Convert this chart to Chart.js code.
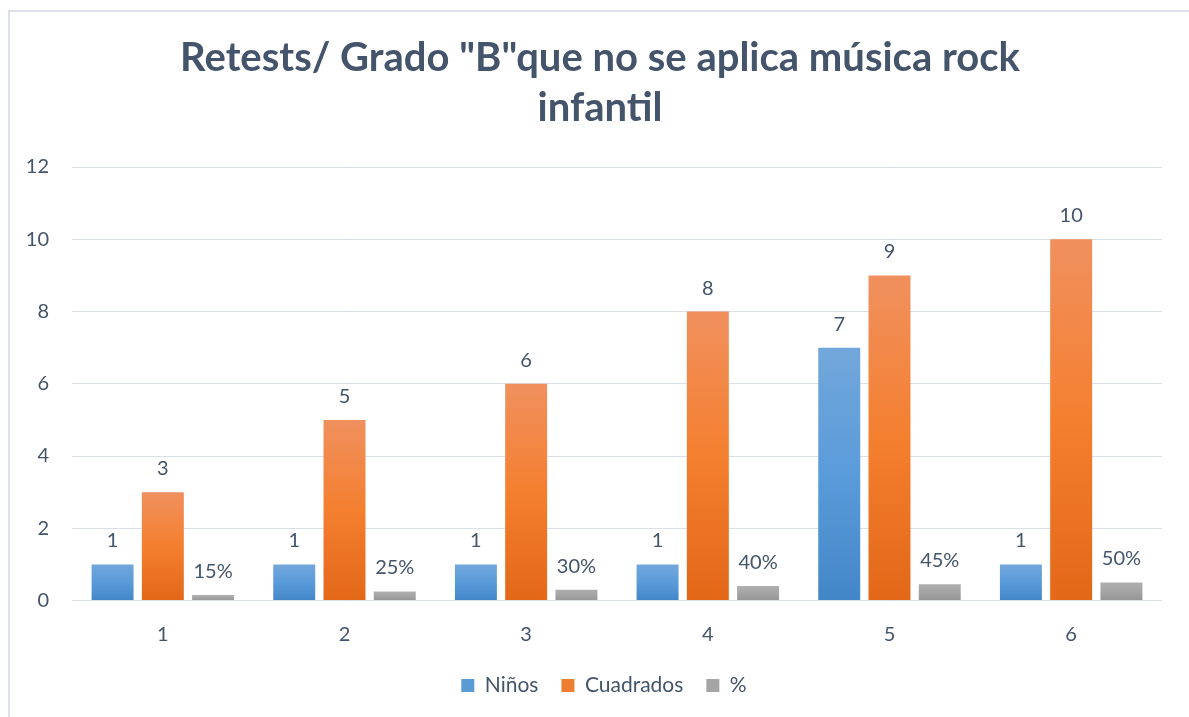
<!DOCTYPE html>
<html><head><meta charset="utf-8">
<script src="https://cdn.jsdelivr.net/npm/chart.js@4.4.1/dist/chart.umd.min.js"></script>
<style>
html,body{margin:0;padding:0;background:#fff;overflow:hidden}
#wrap{position:relative;width:1189px;height:717px;background:#fff}
#frame{position:absolute;left:8px;top:10px;width:1200px;height:720px;border-left:2px solid #DDE2EA;border-top:2px solid #DDE2EA;box-sizing:border-box;pointer-events:none}
canvas{position:absolute;left:0;top:0}
</style></head><body>
<div id="wrap"><div id="frame"></div><canvas id="c" width="1189" height="717"></canvas></div>
<script>
const titleLines = ['Retests/ Grado "B"que no se aplica música rock', 'infantil'];
const categories = ['1', '2', '3', '4', '5', '6'];
const seriesNames = ['Niños', 'Cuadrados', '%'];
const ninos = [1, 1, 1, 1, 7, 1];
const cuadrados = [3, 5, 6, 8, 9, 10];
const porcentaje = [0.15, 0.25, 0.30, 0.40, 0.45, 0.50];
const yTickValues = [0, 2, 4, 6, 8, 10, 12];

const TEXT = '#44546A';
const FONT = 'Lato';

function grad(stops, fallback) {
  return (ctx) => {
    const chart = ctx.chart;
    if (ctx.type !== 'data') return fallback;
    const ys = chart.scales && chart.scales.y;
    if (!ys || !chart.chartArea) return fallback;
    const y0 = ys.getPixelForValue(0), y1 = ys.getPixelForValue(ctx.raw);
    if (!isFinite(y0) || !isFinite(y1) || Math.abs(y0 - y1) < 0.5) return fallback;
    const g = chart.ctx.createLinearGradient(0, y1, 0, y0);
    stops.forEach((c, i) => g.addColorStop(i / (stops.length - 1), c));
    return g;
  };
}
const solid = ['#5B9BD5', '#ED7D31', '#A5A5A5'];

const valueLabels = {
  id: 'valueLabels',
  afterDatasetsDraw(chart) {
    const ctx = chart.ctx;
    ctx.save();
    ctx.font = '20px ' + FONT;
    ctx.fillStyle = TEXT;
    ctx.textAlign = 'center';
    ctx.textBaseline = 'alphabetic';
    chart.data.datasets.forEach((ds, i) => {
      const meta = chart.getDatasetMeta(i);
      meta.data.forEach((bar, j) => {
        const v = ds.data[j];
        const txt = i === 2 ? Math.round(v * 100) + '%' : String(v);
        ctx.fillText(txt, bar.x, bar.y - 17);
      });
    });
    ctx.restore();
  }
};

// centre the title and legend boxes on the same horizontal span as the original
const boxSpan = {
  id: 'boxSpan',
  afterLayout(chart) {
    const t = chart.titleBlock;
    if (t) { t.left = 38; t.right = 1162; }
    const l = chart.legend;
    if (l) { l.left = 46; l.right = 1162; }
  }
};

new Chart(document.getElementById('c'), {
  type: 'bar',
  data: {
    labels: categories,
    datasets: [
      { label: seriesNames[0], data: ninos, backgroundColor: grad(['#72A7DB', '#5A9BDA', '#4386C7'], solid[0]) },
      { label: seriesNames[1], data: cuadrados, backgroundColor: grad(['#F0905E', '#F47F2F', '#E26818'], solid[1]) },
      { label: seriesNames[2], data: porcentaje, backgroundColor: grad(['#AFAFAF', '#A4A4A4', '#959595'], solid[2]) }
    ]
  },
  options: {
    responsive: false,
    animation: false,
    categoryPercentage: 0.83,
    barPercentage: 0.835,
    layout: { padding: { left: 10, right: 27, top: 0, bottom: 11 } },
    plugins: {
      title: {
        display: true,
        text: titleLines,
        color: TEXT,
        font: { family: FONT, size: 40, weight: 'bold', lineHeight: 50 / 40 },
        padding: { top: 33, bottom: 34 }
      },
      legend: {
        position: 'bottom',
        labels: {
          color: TEXT,
          font: { family: FONT, size: 21 },
          boxWidth: 13,
          boxHeight: 13,
          padding: 23,
          generateLabels: (chart) => chart.data.datasets.map((ds, i) => ({
            text: ds.label, fillStyle: solid[i], strokeStyle: solid[i], lineWidth: 0,
            fontColor: TEXT, datasetIndex: i, hidden: false
          }))
        }
      },
      tooltip: { enabled: false }
    },
    scales: {
      x: {
        grid: { display: false, drawTicks: false },
        border: { display: false },
        ticks: { color: TEXT, font: { family: FONT, size: 20 }, padding: 22 },
        afterFit: (s) => { s.height = 51.5; }
      },
      y: {
        min: 0, max: 12,
        afterBuildTicks: (s) => { s.ticks = yTickValues.map(v => ({ value: v })); },
        grid: { color: '#D9DFE7', lineWidth: 1, drawTicks: false },
        border: { display: false },
        ticks: { color: TEXT, font: { family: FONT, size: 20 }, padding: 23 },
        afterFit: (s) => { s.width = 62; }
      }
    }
  },
  plugins: [valueLabels, boxSpan]
});
</script>
</body></html>
